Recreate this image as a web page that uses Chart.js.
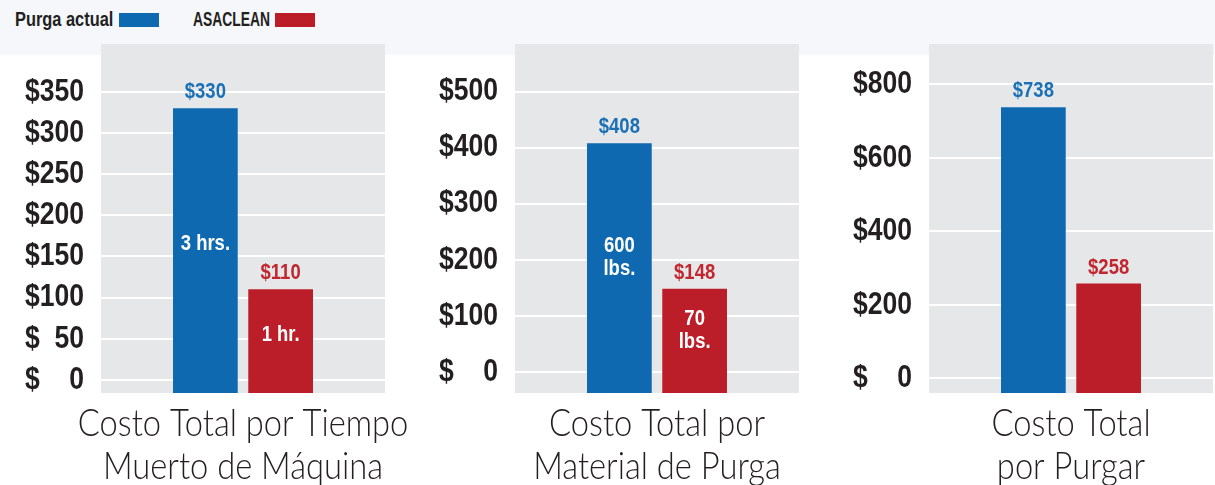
<!DOCTYPE html>
<html>
<head>
<meta charset="utf-8">
<script src="https://cdn.jsdelivr.net/npm/chart.js@4.4.1/dist/chart.umd.min.js"></script>
<style>
  html, body { margin: 0; padding: 0; }
  body {
    width: 1215px; height: 485px; overflow: hidden; position: relative;
    background: linear-gradient(#f5f7fa 0, #f5f7fa 54px, #ffffff 56px);
  }
  .panel { position: absolute; top: 0; height: 485px; }
  .ltext {
    position: absolute; top: 7px; line-height: 24px; white-space: nowrap;
    font: bold 21px "Liberation Sans", Arial, sans-serif; color: #231f20;
    transform-origin: left center;
  }
  .swatch { position: absolute; top: 13px; width: 40px; height: 14px; }
</style>
</head>
<body>
<div id="legend"></div>
<div class="panel" style="left:0;width:415px"><canvas id="c0"></canvas></div>
<div class="panel" style="left:400px;width:415px"><canvas id="c1"></canvas></div>
<div class="panel" style="left:815px;width:400px"><canvas id="c2"></canvas></div>
<script>
// Data
var seriesNames = ['Purga actual', 'ASACLEAN'];
var categories = [
    ['Costo Total por Tiempo', 'Muerto de Máquina'],
    ['Costo Total por', 'Material de Purga'],
    ['Costo Total', 'por Purgar']
];
var purgaActual = [330, 408, 738];
var asaclean = [110, 148, 258];
var purgaNotes = ['3 hrs.', ['600', 'lbs.'], ''];
var asacleanNotes = ['1 hr.', ['70', 'lbs.'], ''];
var ticks0 = [0, 50, 100, 150, 200, 250, 300, 350];
var ticks1 = [0, 100, 200, 300, 400, 500];
var ticks2 = [0, 200, 400, 600, 800];

var BOLD = '"Liberation Sans", Arial, sans-serif';
var LIGHT = 'Lato, "Liberation Sans", sans-serif';
var barColors = ['#0f69b0', '#bb1e28'];
var valueColors = ['#1a6fb5', '#c1262e'];
var textColor = '#231f20';

// panel layout: axis range, y axis width, right padding
var panels = [
    { id: 'c0', ticks: ticks0, min: -16, max: 408, axisWidth: 101, padRight: 30 },
    { id: 'c1', ticks: ticks1, min: -38, max: 585, axisWidth: 115, padRight: 16 },
    { id: 'c2', ticks: ticks2, min: -40, max: 910, axisWidth: 114, padRight: 2 }
];

// legend: text then colour box (text x, box x, horizontal squeeze)
var legendPos = [[15, 119, 0.78], [193, 275, 0.66]];
var legend = document.getElementById('legend');
seriesNames.forEach(function (name, i) {
    var txt = document.createElement('div');
    txt.className = 'ltext';
    txt.style.left = legendPos[i][0] + 'px';
    txt.style.transform = 'scaleX(' + legendPos[i][2] + ')';
    txt.textContent = name;
    var sw = document.createElement('div');
    sw.className = 'swatch';
    sw.style.left = legendPos[i][1] + 'px';
    sw.style.background = barColors[i];
    legend.appendChild(txt);
    legend.appendChild(sw);
});

// condensed text: squeeze a normal face horizontally
function squeezed(ctx, text, x, y, font, color, align, sx) {
    ctx.save();
    ctx.font = font;
    ctx.fillStyle = color;
    ctx.textAlign = align;
    ctx.textBaseline = 'middle';
    ctx.translate(x, y);
    ctx.scale(sx, 1);
    ctx.fillText(text, 0, 0);
    ctx.restore();
}

var plotBackground = {
    id: 'plotBackground',
    beforeDraw: function (chart) {
        var a = chart.chartArea;
        var ctx = chart.ctx;
        ctx.save();
        ctx.fillStyle = '#e6e7e9';
        ctx.fillRect(a.left, a.top, a.right - a.left, a.bottom - a.top);
        ctx.restore();
    }
};

// y tick labels: "$" flush left, amount flush right
var moneyTicks = {
    id: 'moneyTicks',
    afterDraw: function (chart) {
        var ctx = chart.ctx;
        var y = chart.scales.y;
        var font = 'bold 32px ' + BOLD;
        var sx = 0.83;
        var right = y.right - 17;
        ctx.save();
        ctx.font = font;
        var last = y.ticks[y.ticks.length - 1].value;
        var widest = ctx.measureText('$' + last).width * sx;
        ctx.restore();
        y.ticks.forEach(function (t) {
            var py = y.getPixelForValue(t.value);
            squeezed(ctx, String(t.value), right, py, font, textColor, 'right', sx);
            squeezed(ctx, '$', right - widest, py, font, textColor, 'left', sx);
        });
    }
};

var categoryLabels = {
    id: 'categoryLabels',
    afterDraw: function (chart) {
        var x = chart.scales.x;
        var bottom = chart.chartArea.bottom;
        chart.data.labels.forEach(function (lines, i) {
            var cx = x.getPixelForValue(i);
            lines.forEach(function (t, k) {
                squeezed(chart.ctx, t, cx, bottom + 31 + k * 43, '300 38px ' + LIGHT, textColor, 'center', 0.86);
            });
        });
    }
};

var barLabels = {
    id: 'barLabels',
    afterDatasetsDraw: function (chart) {
        var zero = chart.scales.y.getPixelForValue(0);
        var font = 'bold 22px ' + BOLD;
        chart.data.datasets.forEach(function (ds, di) {
            chart.getDatasetMeta(di).data.forEach(function (bar, j) {
                squeezed(chart.ctx, '$' + ds.data[j], bar.x, bar.y - 16, font, valueColors[di], 'center', 0.84);
                var lines = [].concat(ds.note || []);
                var mid = (bar.y + zero) / 2;
                lines.forEach(function (t, k) {
                    squeezed(chart.ctx, t, bar.x, mid + (k - (lines.length - 1) / 2) * 23, font, '#ffffff', 'center', 0.84);
                });
            });
        });
    }
};

panels.forEach(function (p, i) {
    new Chart(document.getElementById(p.id), {
        type: 'bar',
        data: {
            labels: [categories[i]],
            datasets: [{
                label: seriesNames[0],
                data: [purgaActual[i]],
                note: purgaNotes[i],
                backgroundColor: barColors[0],
                base: p.min
            }, {
                label: seriesNames[1],
                data: [asaclean[i]],
                note: asacleanNotes[i],
                backgroundColor: barColors[1],
                base: p.min
            }]
        },
        options: {
            responsive: true,
            maintainAspectRatio: false,
            animation: false,
            layout: { padding: { top: 44, right: p.padRight, left: 0, bottom: 92 } },
            datasets: { bar: { categoryPercentage: 0.53, barPercentage: 0.86 } },
            plugins: { legend: { display: false }, tooltip: { enabled: false } },
            scales: {
                x: {
                    grid: { display: false, drawTicks: false },
                    border: { display: false },
                    ticks: { display: false },
                    afterFit: function (s) { s.height = 0; s.paddingLeft = 0; s.paddingRight = 0; }
                },
                y: {
                    min: p.min,
                    max: p.max,
                    bounds: 'data',
                    afterBuildTicks: function (s) {
                        s.ticks = p.ticks.map(function (v) { return { value: v }; });
                    },
                    afterFit: function (s) { s.width = p.axisWidth; },
                    grid: { color: '#ffffff', lineWidth: 2, drawTicks: false },
                    border: { display: false },
                    ticks: { display: false }
                }
            }
        },
        plugins: [plotBackground, moneyTicks, categoryLabels, barLabels]
    });
});
</script>
</body>
</html>
